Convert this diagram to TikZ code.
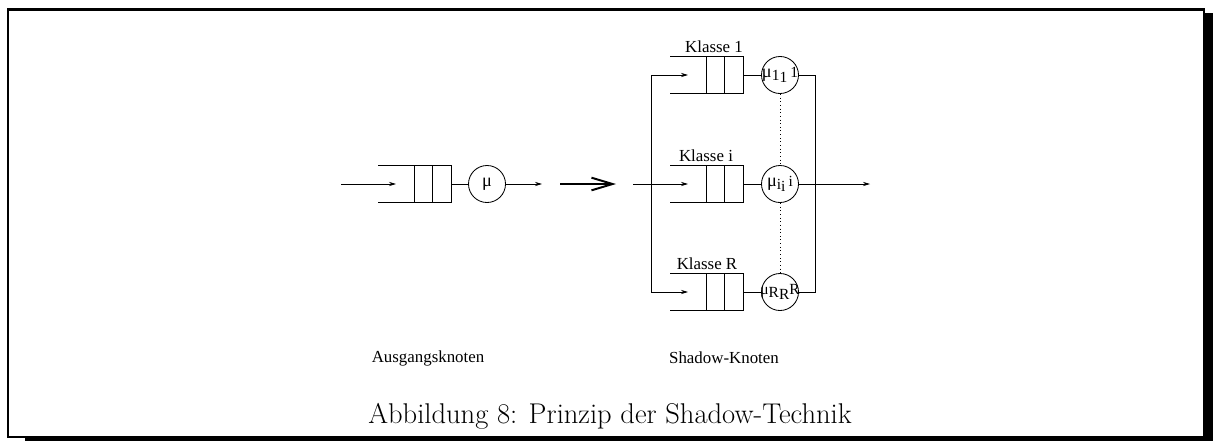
\documentclass[tikz,border=0pt]{standalone}
\usepackage{fontspec}
\newfontfamily\labfont{Liberation Serif}
\usetikzlibrary{arrows.meta}

\begin{document}
\begin{tikzpicture}[x=0.025cm,y=-0.025cm,
  wire/.style={line width=0.6pt},
  flow/.style={wire,-{Stealth[length=5pt,width=3pt]}},
  bigarrow/.style={line width=1.4pt,-{Straight Barb[length=15pt,width=9pt]}},
  server/.style={wire,draw,circle,minimum size=0.925cm,inner sep=0pt},
  lab/.style={inner sep=0pt,font=\labfont\fontsize{12}{14}\selectfont},
  mu/.style={inner sep=0pt,font=\labfont\fontsize{13}{15}\selectfont},
  queue/.pic={
    \draw[wire] (-73,-19) -- (0,-19) -- (0,18) -- (-73,18);
    \draw[wire] (-37,-19) -- (-37,18);
    \draw[wire] (-19,-19) -- (-19,18);
    \coordinate (-out) at (0,0);
    \coordinate (-tip) at (-55,0);
  }]

\useasboundingbox (0,0) rectangle (1215,441);

% Frame with shadow
\draw[line width=1.8pt] (8,9.5) rectangle (1204,437);
\fill (1204,13) rectangle (1213,441);
\fill (25,437) rectangle (1213,441);

% Original node
\coordinate (in0) at (341,184);
\pic (q0) at (451,184) {queue};
\node[server] (s0) at (487,184) {};
\node[mu] (s0-lab) at (s0) {μ};
\coordinate (out0) at (542,184);

\draw[flow] (in0) -- (q0-tip);
\draw[wire] (q0-out) -- (s0);
\draw[flow] (s0) -- (out0);

% Transformation arrow
\coordinate (bigA) at (560,184);
\coordinate (bigB) at (616,184);
\draw[bigarrow] (bigA) -- (bigB);

% Shadow nodes, one queue per class
\coordinate (in) at (633,184);
\coordinate (busL1) at (651,75);
\coordinate (busLR) at (651,292);
\coordinate (busR1) at (815,75);
\coordinate (busRR) at (815,292);
\coordinate (out) at (870,184);

\pic (q1) at (743,75) {queue};
\pic (qi) at (743,184) {queue};
\pic (qR) at (743,292) {queue};

\node[server] (s1) at (780,75) {};
\node[server] (si) at (780,184) {};
\node[server] (sR) at (780,292) {};

\node[mu] (s1-lab) at (s1) {μ\raisebox{-2.5pt}{\fontsize{11}{12}\selectfont 1}\raisebox{-4pt}{\fontsize{11}{12}\selectfont 1}\,{\fontsize{11}{12}\selectfont 1}};
\node[mu] (si-lab) at (si) {μ\raisebox{-2.5pt}{\fontsize{11}{12}\selectfont i}\raisebox{-4pt}{\fontsize{11}{12}\selectfont i}\,{\fontsize{11}{12}\selectfont i}};
\node[mu] (sR-lab) at (sR) {\fontsize{11}{12}\selectfont μ\raisebox{-1.5pt}{R}\raisebox{-3pt}{R}R};

% Branching and joining
\draw[wire] (busL1) -- (busLR);
\draw[flow] (busL1) -- (q1-tip);
\draw[flow] (in) -- (qi-tip);
\draw[flow] (busLR) -- (qR-tip);

\draw[wire] (q1-out) -- (s1);
\draw[wire] (qi-out) -- (si);
\draw[wire] (qR-out) -- (sR);

\draw[wire] (s1) -- (busR1) -- (busRR) -- (sR);
\draw[flow] (si) -- (out);

\draw[wire,dotted] (s1) -- (si);
\draw[wire,dotted] (si) -- (sR);

% Labels
\node[lab] (k1) at (714,47) {Klasse 1};
\node[lab] (ki) at (706,156) {Klasse i};
\node[lab] (kR) at (707,264) {Klasse R};

\node[lab] (ausg) at (428,358) {Ausgangsknoten};
\node[lab] (shad) at (724,358) {Shadow-Knoten};

\node[inner sep=0pt,font=\fontsize{20.3}{22}\selectfont] (cap) at (610,416) {Abbildung 8: Prinzip der Shadow-Technik};

\end{tikzpicture}
\end{document}
